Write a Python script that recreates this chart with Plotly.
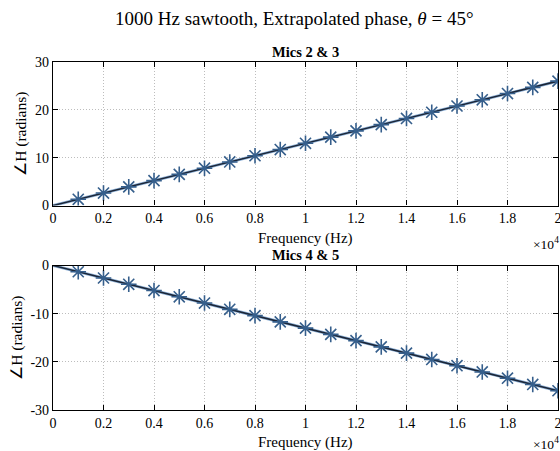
import plotly.graph_objects as go

# Data
freq_hz = [0, 1000, 2000, 3000, 4000, 5000, 6000, 7000, 8000, 9000, 10000,
           11000, 12000, 13000, 14000, 15000, 16000, 17000, 18000, 19000, 20000]
phase_23 = [0, 1.3, 2.6, 3.9, 5.2, 6.5, 7.8, 9.1, 10.4, 11.7, 13.0,
            14.3, 15.6, 16.9, 18.2, 19.5, 20.8, 22.1, 23.4, 24.7, 26.0]
phase_45 = [0, -1.3, -2.6, -3.9, -5.2, -6.5, -7.8, -9.1, -10.4, -11.7, -13.0,
            -14.3, -15.6, -16.9, -18.2, -19.5, -20.8, -22.1, -23.4, -24.7, -26.0]
x_tickvals = [0, 2000, 4000, 6000, 8000, 10000, 12000, 14000, 16000, 18000, 20000]
x_ticktext = ["0", "0.2", "0.4", "0.6", "0.8", "1", "1.2", "1.4", "1.6", "1.8", "2"]
y_ticks_top = [0, 10, 20, 30]
y_text_top = ["0", "10", "20", "30"]
y_ticks_bot = [-30, -20, -10, 0]
y_text_bot = ["-30", "-20", "-10", "0"]

FONT = "Liberation Serif"
LINE_C = "#1b2638"
MARK_C = "#365f8c"

fig = go.Figure()
for i, ph in enumerate([phase_23, phase_45]):
    xa = "x" if i == 0 else "x2"
    ya = "y" if i == 0 else "y2"
    fig.add_trace(go.Scatter(x=freq_hz, y=ph, mode="lines",
                             line=dict(color="#8fb2d8", width=3.0),
                             xaxis=xa, yaxis=ya, showlegend=False, hoverinfo="skip"))
    fig.add_trace(go.Scatter(x=freq_hz, y=ph, mode="lines",
                             line=dict(color=LINE_C, width=1.6),
                             xaxis=xa, yaxis=ya, showlegend=False))
    fig.add_trace(go.Scatter(x=freq_hz[1:], y=ph[1:], mode="markers",
                             marker=dict(symbol="asterisk-open", size=13, color=MARK_C,
                                         line=dict(color=MARK_C, width=1.6)),
                             xaxis=xa, yaxis=ya, showlegend=False))

W, H = 560, 451
x_dom = [53 / W, 558 / W]
top_dom = [(H - 205.5) / H, (H - 62) / H]
bot_dom = [(H - 410) / H, (H - 265.5) / H]

axis_common = dict(showline=True, linecolor="black", linewidth=1.2, mirror="ticks",
                   ticks="inside", ticklen=5, tickcolor="black", automargin=False,
                   showgrid=True, gridcolor="#bdbdbd", griddash="1px,2px", gridwidth=1,
                   zeroline=False, tickfont=dict(family=FONT, size=14, color="black"))


def px_x(p):
    return p / W


def px_y(p):
    return (H - p) / H


def ann(text, x, y, size, xanchor="center"):
    return dict(text=text, x=px_x(x), y=px_y(y), xref="paper", yref="paper",
                showarrow=False, xanchor=xanchor, yanchor="middle",
                font=dict(family=FONT, size=size, color="black"))


fig.update_layout(
    width=W, height=H, margin=dict(l=0, r=0, t=0, b=0, autoexpand=False),
    paper_bgcolor="white", plot_bgcolor="white",
    font=dict(family=FONT, color="black"),
    xaxis=dict(domain=x_dom, anchor="y", range=[0, 20000], tickvals=x_tickvals,
               ticktext=x_ticktext, ticklabeloverflow="allow", **axis_common),
    yaxis=dict(domain=top_dom, anchor="x", range=[0, 30], tickvals=y_ticks_top,
               ticktext=y_text_top,
               title=dict(text="∠H (radians)", font=dict(family=FONT, size=15.5), standoff=4),
               **axis_common),
    xaxis2=dict(domain=x_dom, anchor="y2", range=[0, 20000], tickvals=x_tickvals,
                ticktext=x_ticktext, ticklabeloverflow="allow", **axis_common),
    yaxis2=dict(domain=bot_dom, anchor="x2", range=[-30, 0], tickvals=y_ticks_bot,
                ticktext=y_text_bot,
                title=dict(text="∠H (radians)", font=dict(family=FONT, size=15.5), standoff=4),
                **axis_common),
    annotations=[
        ann("1000 Hz sawtooth, Extrapolated phase, <i>θ</i> = 45°", 294, 18, 19),
        ann("<b>Mics 2 & 3</b>", 306, 52, 14.5),
        ann("Frequency (Hz)", 306, 238, 15),
        ann("×10<sup>4</sup>", 531, 243, 13.5, xanchor="left"),
        ann("<b>Mics 4 & 5</b>", 306, 255, 14.5),
        ann("Frequency (Hz)", 306, 442, 15),
        ann("×10<sup>4</sup>", 531, 443, 13.5, xanchor="left"),
    ],
)

fig.write_html("out.html", config={"displayModeBar": False},
               post_script="document.body.style.margin='0';document.body.style.overflow='hidden';")
